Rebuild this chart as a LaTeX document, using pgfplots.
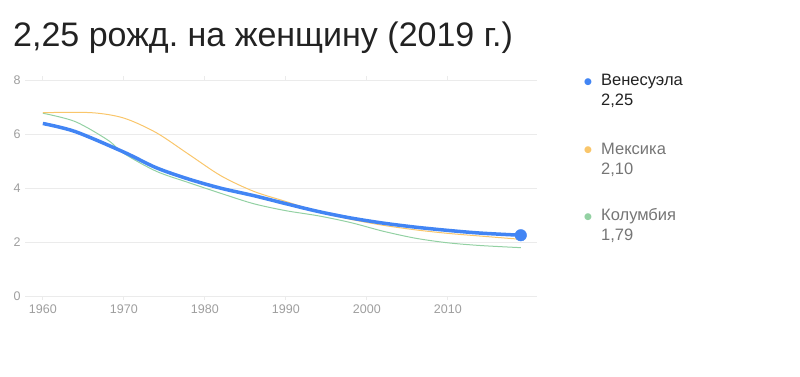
\documentclass[border=0pt]{standalone}
\usepackage{fontspec}
\setmainfont{Liberation Sans}
\newfontfamily\symfont{DejaVu Sans}
\usepackage{pgfplots}
\pgfplotsset{compat=1.18}
\definecolor{cblue}{HTML}{4285F4}
\definecolor{corange}{HTML}{F9C66B}
\definecolor{cgreen}{HTML}{93D1A3}
\definecolor{cgrid}{HTML}{EBEBEB}
\definecolor{ctick}{HTML}{9E9E9E}
\definecolor{cdark}{HTML}{222222}
\definecolor{cgray}{HTML}{757575}
\frenchspacing
\begin{document}
\begin{tikzpicture}[x=1pt,y=1pt]
\path (0,0) rectangle (800,-377);
\node[anchor=base west,inner sep=0pt,text=cdark,font=\fontsize{34}{34}\selectfont] at (13,-47) {2,25 рожд. на женщину (2019 г.)};
\begin{axis}[
  at={(25pt,-296pt)}, anchor=south west,
  width=512pt, height=216pt, scale only axis,
  xmin=1957.8, xmax=2021, ymin=0, ymax=8,
  xtick={1960,1970,1980,1990,2000,2010},
  ytick={0,2,4,6,8},
  ymajorgrids, grid style={cgrid,line width=0.8pt},
  axis line style={draw=none},
  xtick align=outside, major tick length=4pt,
  xtick style={cgrid,line width=0.8pt},
  ytick style={draw=none},
  tick label style={font=\fontsize{12.5}{12.5}\selectfont, text=ctick},
  xticklabel style={yshift=-1pt},
  yticklabel style={xshift=-1pt},
  /pgf/number format/assume math mode=true,
  /pgf/number format/1000 sep={},
  clip=false,
]
\addplot[cgreen, line width=1pt, smooth, tension=0.5] coordinates {
(1960,6.77) (1964,6.46) (1968,5.78) (1970,5.28) (1974,4.62) (1978,4.20) (1982,3.80) (1986,3.42) (1990,3.16) (1994,2.97) (1998,2.72) (2002,2.40) (2006,2.14) (2010,1.97) (2014,1.87) (2019,1.79)};
\addplot[corange, line width=1pt, smooth, tension=0.5] coordinates {
(1960,6.79) (1966,6.79) (1970,6.59) (1974,6.05) (1978,5.25) (1982,4.45) (1986,3.88) (1990,3.50) (1994,3.12) (1998,2.84) (2002,2.62) (2006,2.45) (2010,2.32) (2014,2.22) (2019,2.10)};
\addplot[cblue, line width=3.5pt, smooth, tension=0.5] coordinates {
(1960,6.39) (1964,6.09) (1970,5.33) (1974,4.75) (1978,4.33) (1982,3.99) (1986,3.72) (1990,3.42) (1994,3.13) (1998,2.89) (2002,2.70) (2006,2.55) (2010,2.43) (2014,2.33) (2019,2.25)};
\addplot[cblue, only marks, mark=*, mark size=5.8pt] coordinates {(2019,2.25)};
\end{axis}
\begin{scope}[every node/.style={anchor=base west,inner sep=0pt,font=\fontsize{16.5}{16.5}\selectfont}]
\node[text=cblue,font=\symfont\fontsize{9}{9}\selectfont] at (584,-85) {●};
\node[text=cdark] at (601,-86) {Венесуэла};
\node[text=cdark] at (601,-106) {2,25};
\node[text=corange,font=\symfont\fontsize{9}{9}\selectfont] at (584,-153) {●};
\node[text=cgray] at (601,-154) {Мексика};
\node[text=cgray] at (601,-174) {2,10};
\node[text=cgreen,font=\symfont\fontsize{9}{9}\selectfont] at (584,-219) {●};
\node[text=cgray] at (601,-220) {Колумбия};
\node[text=cgray] at (601,-240) {1,79};
\end{scope}
\end{tikzpicture}
\end{document}
